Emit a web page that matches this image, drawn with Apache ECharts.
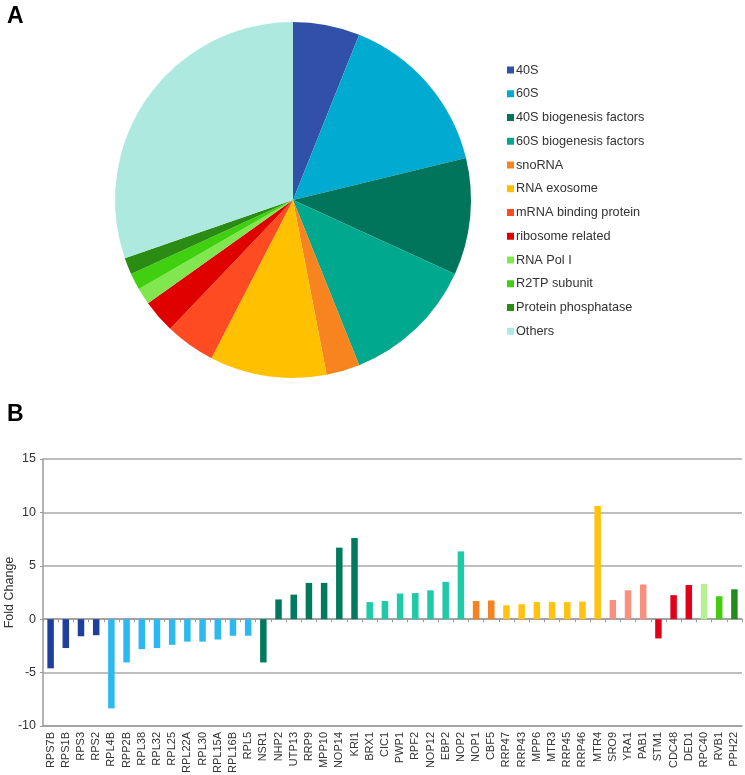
<!DOCTYPE html>
<html>
<head>
<meta charset="utf-8">
<script src="https://cdn.jsdelivr.net/npm/echarts@6/dist/echarts.min.js"></script>
<style>
html,body{margin:0;padding:0;background:#fff;}
#main{width:745px;height:775px;}
</style>
</head>
<body>
<div id="main"></div>
<script>
// ---- Panel A data (pie) ----
const pieCategories = ['40S','60S','40S biogenesis factors','60S biogenesis factors','snoRNA','RNA exosome','mRNA binding protein','ribosome related','RNA Pol I','R2TP subunit','Protein phosphatase','Others'];
const pieValues = [4,10,7,8,2,7,3,2,1,1,1,20];

// ---- Panel B data (bars) ----
const genes = ['RPS7B','RPS1B','RPS3','RPS2','RPL4B','RPP2B','RPL38','RPL32','RPL25','RPL22A','RPL30','RPL15A','RPL16B','RPL5','NSR1','NHP2','UTP13','RRP9','MPP10','NOP14','KRI1','BRX1','CIC1','PWP1','RPF2','NOP12','EBP2','NOP2','NOP1','CBF5','RRP47','RRP43','MPP6','MTR3','RRP45','RRP46','MTR4','SRO9','YRA1','PAB1','STM1','CDC48','DED1','RPC40','RVB1','PPH22'];
const foldChange = [-4.6,-2.7,-1.6,-1.5,-8.35,-4.05,-2.8,-2.7,-2.4,-2.1,-2.1,-1.9,-1.55,-1.55,-4.05,1.85,2.3,3.4,3.4,6.7,7.6,1.6,1.7,2.4,2.45,2.7,3.5,6.35,1.7,1.75,1.3,1.4,1.6,1.6,1.6,1.65,10.6,1.8,2.7,3.25,-1.8,2.25,3.2,3.3,2.15,2.8];
const geneGroup = ['40S','40S','40S','40S','60S','60S','60S','60S','60S','60S','60S','60S','60S','60S','40S biogenesis factors','40S biogenesis factors','40S biogenesis factors','40S biogenesis factors','40S biogenesis factors','40S biogenesis factors','40S biogenesis factors','60S biogenesis factors','60S biogenesis factors','60S biogenesis factors','60S biogenesis factors','60S biogenesis factors','60S biogenesis factors','60S biogenesis factors','snoRNA','snoRNA','RNA exosome','RNA exosome','RNA exosome','RNA exosome','RNA exosome','RNA exosome','RNA exosome','mRNA binding protein','mRNA binding protein','mRNA binding protein','ribosome related','ribosome related','ribosome related','RNA Pol I','R2TP subunit','Protein phosphatase'];
const yTicks = [-10,-5,0,5,10,15];

// ---- styles ----
const pieColors = {
  '40S':'#3150a8','60S':'#00aad0','40S biogenesis factors':'#00755c','60S biogenesis factors':'#00a98e',
  'snoRNA':'#f7841e','RNA exosome':'#ffc000','mRNA binding protein':'#ff4b22','ribosome related':'#e00000',
  'RNA Pol I':'#80e84e','R2TP subunit':'#40d010','Protein phosphatase':'#2a8c12','Others':'#aee9e0'
};
const barColors = {
  '40S':'#1f3f9e','60S':'#2cb8f0','40S biogenesis factors':'#007a5e','60S biogenesis factors':'#1ecaa8',
  'snoRNA':'#f58220','RNA exosome':'#ffc20e','mRNA binding protein':'#f8907e','ribosome related':'#e0001a',
  'RNA Pol I':'#b6f094','R2TP subunit':'#44cc11','Protein phosphatase':'#238b22','Others':'#aee9e0'
};

const chart = echarts.init(document.getElementById('main'), null, {renderer:'canvas'});
const font = 'Liberation Sans, Arial, sans-serif';

chart.setOption({
  animation:false,
  backgroundColor:'#fff',
  textStyle:{fontFamily:font},
  graphic:[
    {type:'text', left:7, top:5, style:{text:'A', font:'bold 23px ' + font, fill:'#000'}},
    {type:'text', left:7, top:403, style:{text:'B', font:'bold 23px ' + font, fill:'#000'}}
  ],
  legend:{
    data:pieCategories,
    orient:'vertical',
    left:502, top:58,
    itemWidth:7, itemHeight:7,
    itemGap:9.75,
    icon:'rect',
    textStyle:{fontSize:12.7, lineHeight:14, color:'#333', fontFamily:font, padding:[0,0,0,-3]},
    selectedMode:false
  },
  grid:{left:43, right:3, top:459, bottom:49, outerBoundsMode:'none', containLabel:false},
  xAxis:[
    {
      type:'category', data:genes, position:'bottom',
      axisLine:{onZero:false, lineStyle:{color:'#9a9a9a', width:1.5}},
      axisTick:{show:false},
      axisLabel:{rotate:90, fontSize:11, color:'#333', margin:6, interval:0, fontFamily:font}
    },
    {
      type:'category', data:genes, position:'bottom',
      axisLine:{onZero:true, lineStyle:{color:'#9a9a9a', width:1.5}},
      axisTick:{show:true, interval:0, length:3, lineStyle:{color:'#9a9a9a'}},
      axisLabel:{show:false}
    }
  ],
  yAxis:{
    type:'value', min:yTicks[0], max:yTicks[yTicks.length-1], interval:5,
    name:'Fold Change', nameLocation:'middle', nameGap:27, nameMoveOverlap:false,
    nameTextStyle:{fontSize:12.5, color:'#333', fontFamily:font},
    axisLine:{show:true, lineStyle:{color:'#9a9a9a', width:1.5}},
    axisTick:{show:true, length:3, lineStyle:{color:'#9a9a9a'}},
    axisLabel:{fontSize:12.5, color:'#333', margin:7, fontFamily:font},
    splitLine:{lineStyle:{color:'#a8a8a8', width:1.5}}
  },
  series:[
    {
      type:'pie', name:'A',
      center:[293,200], radius:178,
      startAngle:90, clockwise:true,
      label:{show:false}, labelLine:{show:false},
      itemStyle:{borderWidth:0},
      emphasis:{disabled:true},
      data:pieCategories.map((c,i)=>({name:c, value:pieValues[i], itemStyle:{color:pieColors[c]}}))
    },
    {
      type:'bar', xAxisIndex:0, yAxisIndex:0,
      barWidth:6.5,
      data:foldChange.map((v,i)=>({value:v, itemStyle:{color:barColors[geneGroup[i]]}}))
    }
  ]
});
</script>
</body>
</html>
